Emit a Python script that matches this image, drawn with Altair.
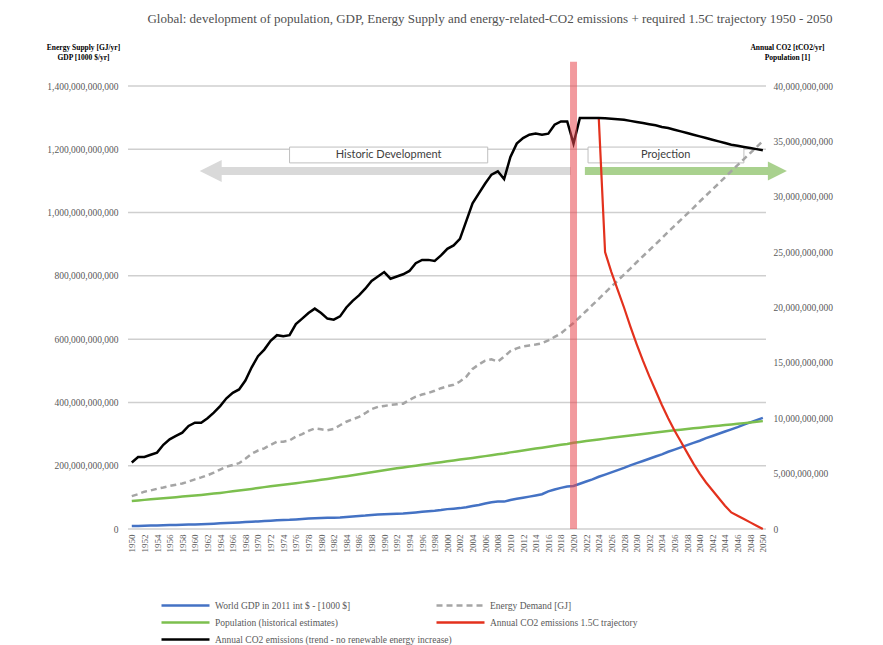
import altair as alt
import pandas as pd

# ---------------- data ----------------
years = list(range(1950, 2051))

# World GDP in 2011 int $ [1000 $], in billions (x1e9)
gdp_bn = [9.3, 9.8, 10.2, 10.7, 11.1, 11.8, 12.3, 12.8, 13.2, 13.9,
          14.5, 15.1, 15.9, 16.7, 17.8, 18.7, 19.7, 20.6, 21.8, 23.0,
          24.0, 25.0, 26.3, 28.0, 28.6, 29.0, 30.4, 31.6, 32.9, 34.1,
          34.7, 35.3, 35.6, 36.6, 38.2, 39.5, 40.9, 42.3, 44.2, 45.7,
          46.7, 47.2, 48.1, 49.1, 50.7, 52.3, 54.2, 56.3, 57.8, 59.9,
          62.8, 64.3, 66.0, 68.7, 72.6, 76.1, 80.3, 84.8, 86.8, 86.6,
          91.6, 95.5, 98.9, 102.3, 106.0, 110.0, 119.0, 125.0, 130.0, 134.0,
          136, 143, 150, 157, 165, 172, 179, 186, 193, 201,
          208, 215, 222, 229, 236, 244, 251, 258, 265, 272,
          279, 287, 294, 301, 308, 315, 322, 330, 337, 344,
          351]

# Energy demand [GJ], in billions
energy_bn = [104, 110, 118, 122, 127, 131, 136, 140, 144, 150,
             157, 163, 170, 178, 188, 197, 202, 208, 222, 238,
             248, 255, 266, 276, 276, 280, 292, 300, 310, 318,
             315, 312, 316, 328, 339, 347, 354, 366, 379, 386,
             389, 392, 394, 396, 408, 418, 425, 430, 437, 445,
             451, 456, 466, 481, 506, 520, 532, 536, 529, 545,
             562, 571, 577, 580, 583, 587, 596, 607, 618, 635,
             651, 670, 689, 708, 727, 747, 766, 785, 804, 823,
             843, 862, 881, 900, 919, 939, 958, 977, 996, 1015,
             1035, 1054, 1073, 1092, 1111, 1131, 1150, 1169, 1188, 1207,
             1226]

# Population, in billions
population_bn = [2.53, 2.58, 2.63, 2.68, 2.73, 2.77, 2.82, 2.87, 2.93, 2.98,
                 3.03, 3.08, 3.14, 3.20, 3.26, 3.33, 3.40, 3.47, 3.54, 3.62,
                 3.70, 3.78, 3.85, 3.93, 4.00, 4.07, 4.14, 4.21, 4.28, 4.36,
                 4.44, 4.52, 4.60, 4.69, 4.77, 4.86, 4.95, 5.04, 5.13, 5.22,
                 5.31, 5.40, 5.48, 5.56, 5.64, 5.72, 5.80, 5.88, 5.96, 6.03,
                 6.11, 6.19, 6.27, 6.34, 6.42, 6.50, 6.58, 6.66, 6.74, 6.82,
                 6.92, 7.00, 7.09, 7.17, 7.26, 7.34, 7.43, 7.51, 7.60, 7.68,
                 7.79, 7.86, 7.94, 8.01, 8.09, 8.16, 8.23, 8.30, 8.37, 8.44,
                 8.51, 8.58, 8.64, 8.71, 8.78, 8.85, 8.91, 8.97, 9.03, 9.09,
                 9.15, 9.21, 9.27, 9.32, 9.38, 9.44, 9.50, 9.56, 9.62, 9.68,
                 9.74]

# Annual CO2 emissions (trend) [tCO2/yr], in billions
co2_trend_bn = [6.0, 6.5, 6.5, 6.7, 6.9, 7.6, 8.1, 8.4, 8.7, 9.3,
                9.6, 9.6, 10.0, 10.5, 11.1, 11.8, 12.3, 12.6, 13.4, 14.6,
                15.6, 16.2, 17.0, 17.5, 17.4, 17.5, 18.5, 19.0, 19.5, 19.9,
                19.5, 19.0, 18.9, 19.2, 20.0, 20.6, 21.1, 21.7, 22.4, 22.8,
                23.2, 22.6, 22.8, 23.0, 23.3, 24.0, 24.3, 24.3, 24.2, 24.7,
                25.3, 25.6, 26.2, 27.8, 29.4, 30.3, 31.2, 32.0, 32.3, 31.6,
                33.6, 34.8, 35.3, 35.6, 35.7, 35.6, 35.7, 36.5, 36.8, 36.8,
                34.8, 37.1, 37.1, 37.1, 37.1, 37.08, 37.05, 37.0, 36.95, 36.85,
                36.75, 36.65, 36.55, 36.45, 36.3, 36.2, 36.05, 35.9, 35.75, 35.6,
                35.45, 35.3, 35.15, 35.0, 34.85, 34.7, 34.6, 34.5, 34.4, 34.3,
                34.2]

# Annual CO2 emissions 1.5C trajectory, in billions
co2_15_years = list(range(2024, 2051))
co2_15_bn = [37.1, 25.0, 23.2, 21.6, 20.0, 18.3, 16.7, 15.2, 13.8, 12.5,
             11.2, 10.0, 8.9, 7.9, 6.9, 5.9, 5.0, 4.2, 3.5, 2.8,
             2.1, 1.5, 1.2, 0.9, 0.6, 0.3, 0.0]

series_names = ["World GDP in 2011 int $ - [1000 $]",
                "Energy Demand [GJ]",
                "Population (historical estimates)",
                "Annual CO2 emissions 1.5C trajectory",
                "Annual CO2 emissions (trend - no renewable energy increase)"]

title_text = ("Global: development of population, GDP, Energy Supply and "
              "energy-related-CO2 emissions + required 1.5C trajectory 1950 - 2050")

left_ticks = [0, 200e9, 400e9, 600e9, 800e9, 1000e9, 1200e9, 1400e9]
right_ticks = [0, 5e9, 10e9, 15e9, 20e9, 25e9, 30e9, 35e9, 40e9]
year_ticks = list(range(1950, 2051, 2))

# ---------------- styling ----------------
SERIF = "Liberation Serif"
TXT = "#595959"
GRID = "#CFCFCF"

W, H = 638, 443


def frame(xs, vals, name):
    return pd.DataFrame({"year": xs, "v": [v * 1e9 for v in vals], "s": name})


df_gdp = frame(years, gdp_bn, series_names[0])
df_energy = frame(years, energy_bn, series_names[1])
df_pop = frame(years, population_bn, series_names[2])
df_red = frame(co2_15_years, co2_15_bn, series_names[3])
df_co2 = frame(years, co2_trend_bn, series_names[4])

xscale = alt.Scale(domain=[1949.4, 2050.5], nice=False, zero=False)
lscale = alt.Scale(domain=[0, 1.4e12], nice=False, zero=True)
rscale = alt.Scale(domain=[0, 40e9], nice=False, zero=True)

xaxis = alt.Axis(values=year_ticks, format="d", labelAngle=-90, labelFont=SERIF,
                 labelFontSize=9, labelColor=TXT, ticks=False, domain=False,
                 grid=False, labelPadding=5, title=None, labelOverlap=False)
laxis = alt.Axis(orient="left", values=left_ticks, format=",.0f", labelFont=SERIF,
                 labelFontSize=9.5, labelColor=TXT, ticks=False, domain=False,
                 grid=False, labelPadding=10,
                 title=["Energy Supply [GJ/yr]", "GDP [1000 $/yr]"], titleAngle=0,
                 titleX=-45, titleY=-43, titleAlign="center", titleBaseline="top",
                 titleFont=SERIF, titleFontSize=7.5, titleFontWeight="bold",
                 titleColor="#000000", titleLineHeight=10)
raxis = alt.Axis(orient="right", values=right_ticks, format=",.0f", labelFont=SERIF,
                 labelFontSize=9.5, labelColor=TXT, ticks=False, domain=False,
                 grid=False, labelPadding=7,
                 title=["Annual CO2 [tCO2/yr]", "Population [1]"], titleAngle=0,
                 titleX=21, titleY=-43, titleAlign="center", titleBaseline="top",
                 titleFont=SERIF, titleFontSize=7.5, titleFontWeight="bold",
                 titleColor="#000000", titleLineHeight=10)

X = lambda f: alt.X(f, scale=xscale, axis=xaxis)
YL = lambda f: alt.Y(f, scale=lscale, axis=laxis)
YR = lambda f: alt.Y(f, scale=rscale, axis=raxis)


def legend(x, y, dash=None):
    kw = dict(orient="none", legendX=x, legendY=y, title=None, symbolType="stroke",
              symbolSize=2304, symbolStrokeWidth=2.5, labelFont=SERIF,
              labelFontSize=9.5, labelColor=TXT, labelLimit=0, padding=0,
              labelOffset=4)
    if dash:
        kw["symbolDash"] = dash
    return alt.Legend(**kw)


def line(df, color, Y, leg, width=2.5, dash=None):
    mk = dict(strokeWidth=width)
    if dash:
        mk["strokeDash"] = dash
    return alt.Chart(df).mark_line(**mk).encode(
        x=X("year:Q"),
        y=Y("v:Q"),
        color=alt.Color("s:N", scale=alt.Scale(domain=[df["s"].iloc[0]], range=[color]),
                        legend=leg),
    )


LX1, LX2 = 32, 307
LY = [494, 511, 528]

gdp_line = line(df_gdp, "#4472C4", YL, legend(LX1, LY[0]))
energy_line = line(df_energy, "#A5A5A5", YL, legend(LX2, LY[0], [6, 4]), dash=[6, 4])
pop_line = line(df_pop, "#7CBF4E", YR, legend(LX1, LY[1]))
red_line = line(df_red, "#E3311D", YR, legend(LX2, LY[1]), width=2.2)
co2_line = line(df_co2, "#000000", YR, legend(LX1, LY[2]), width=2.5)

# ---------------- gridlines at the left-axis ticks (own top-level layer) ----------------
grid_df = pd.DataFrame({"t": left_ticks, "x0": [1949.4] * len(left_ticks),
                        "x1": [2050.5] * len(left_ticks)})
grid_marks = alt.Chart(grid_df).mark_rule(stroke=GRID, strokeWidth=1.5, strokeOpacity=1).encode(
    x=X("x0:Q"), x2="x1:Q",
    y=alt.Y("t:Q", scale=lscale, axis=None))

# ---------------- annotations (left-axis units) ----------------
boxes = pd.DataFrame({
    "x": [1975.0, 2022.3], "x2": [2006.4, 2047.0],
    "y": [1207e9, 1207e9], "y2": [1157e9, 1157e9],
    "xc": [1990.7, 2034.6], "yc": [1182e9, 1182e9],
    "label": ["Historic Development", "Projection"],
})
box_marks = alt.Chart(boxes).mark_rect(fill="white", stroke="#BFBFBF", strokeWidth=1).encode(
    x=X("x:Q"), x2="x2:Q", y=YL("y:Q"), y2="y2:Q")
box_text = alt.Chart(boxes).mark_text(font="Lato", fontSize=11, color="#404040").encode(
    x=X("xc:Q"), y=YL("yc:Q"), text="label:N")

arrow_grey = pd.DataFrame({"x": [1962.5], "x2": [2019.6], "y": [1131e9]})
arrow_green = pd.DataFrame({"x": [2021.8], "x2": [2052.3], "y": [1131e9]})
grey_bar = alt.Chart(arrow_grey).mark_rule(strokeWidth=8, strokeCap="butt", color="#D9D9D9").encode(
    x=X("x:Q"), x2="x2:Q", y=YL("y:Q"))
grey_head = alt.Chart(arrow_grey).mark_point(shape="M1,-1L-1,0L1,1Z", filled=True, size=484,
                                             color="#D9D9D9", opacity=1, strokeWidth=0).encode(
    x=X("x:Q"), y=YL("y:Q"))
green_bar = alt.Chart(arrow_green).mark_rule(strokeWidth=8, strokeCap="butt", color="#A9D18E").encode(
    x=X("x:Q"), x2="x2:Q", y=YL("y:Q"))
green_head = alt.Chart(arrow_green).mark_point(shape="M-1,-1L1,0L-1,1Z", filled=True, size=361,
                                               color="#A9D18E", opacity=1, strokeWidth=0).encode(
    x=X("x2:Q"), y=YL("y:Q"))

band = pd.DataFrame({"year": [2020], "y0": [0.0], "y1": [42.2e9]})
band_mark = alt.Chart(band).mark_rule(strokeWidth=7, color="#E8474F", opacity=0.55).encode(
    x=X("year:Q"), y=YR("y0:Q"), y2="y1:Q")

left = alt.layer(grey_bar, grey_head, green_bar, green_head, box_marks, box_text,
                 gdp_line, energy_line).resolve_scale(color="independent")
right = alt.layer(pop_line, red_line, co2_line, band_mark).resolve_scale(color="independent")

chart = alt.layer(grid_marks, left, right).resolve_scale(y="independent", color="independent").properties(
    width=W, height=H,
    autosize=alt.AutoSizeParams(type="none"),
    padding={"left": 120, "top": 78, "right": 80, "bottom": 118},
    title=alt.TitleParams(text=title_text, font=SERIF, fontSize=13, fontWeight="normal",
                          color="#505050", anchor="middle", frame="group", dx=43, offset=17),
).configure_view(strokeWidth=0)

chart.save("out.html", embed_options={"renderer": "svg", "actions": False})
